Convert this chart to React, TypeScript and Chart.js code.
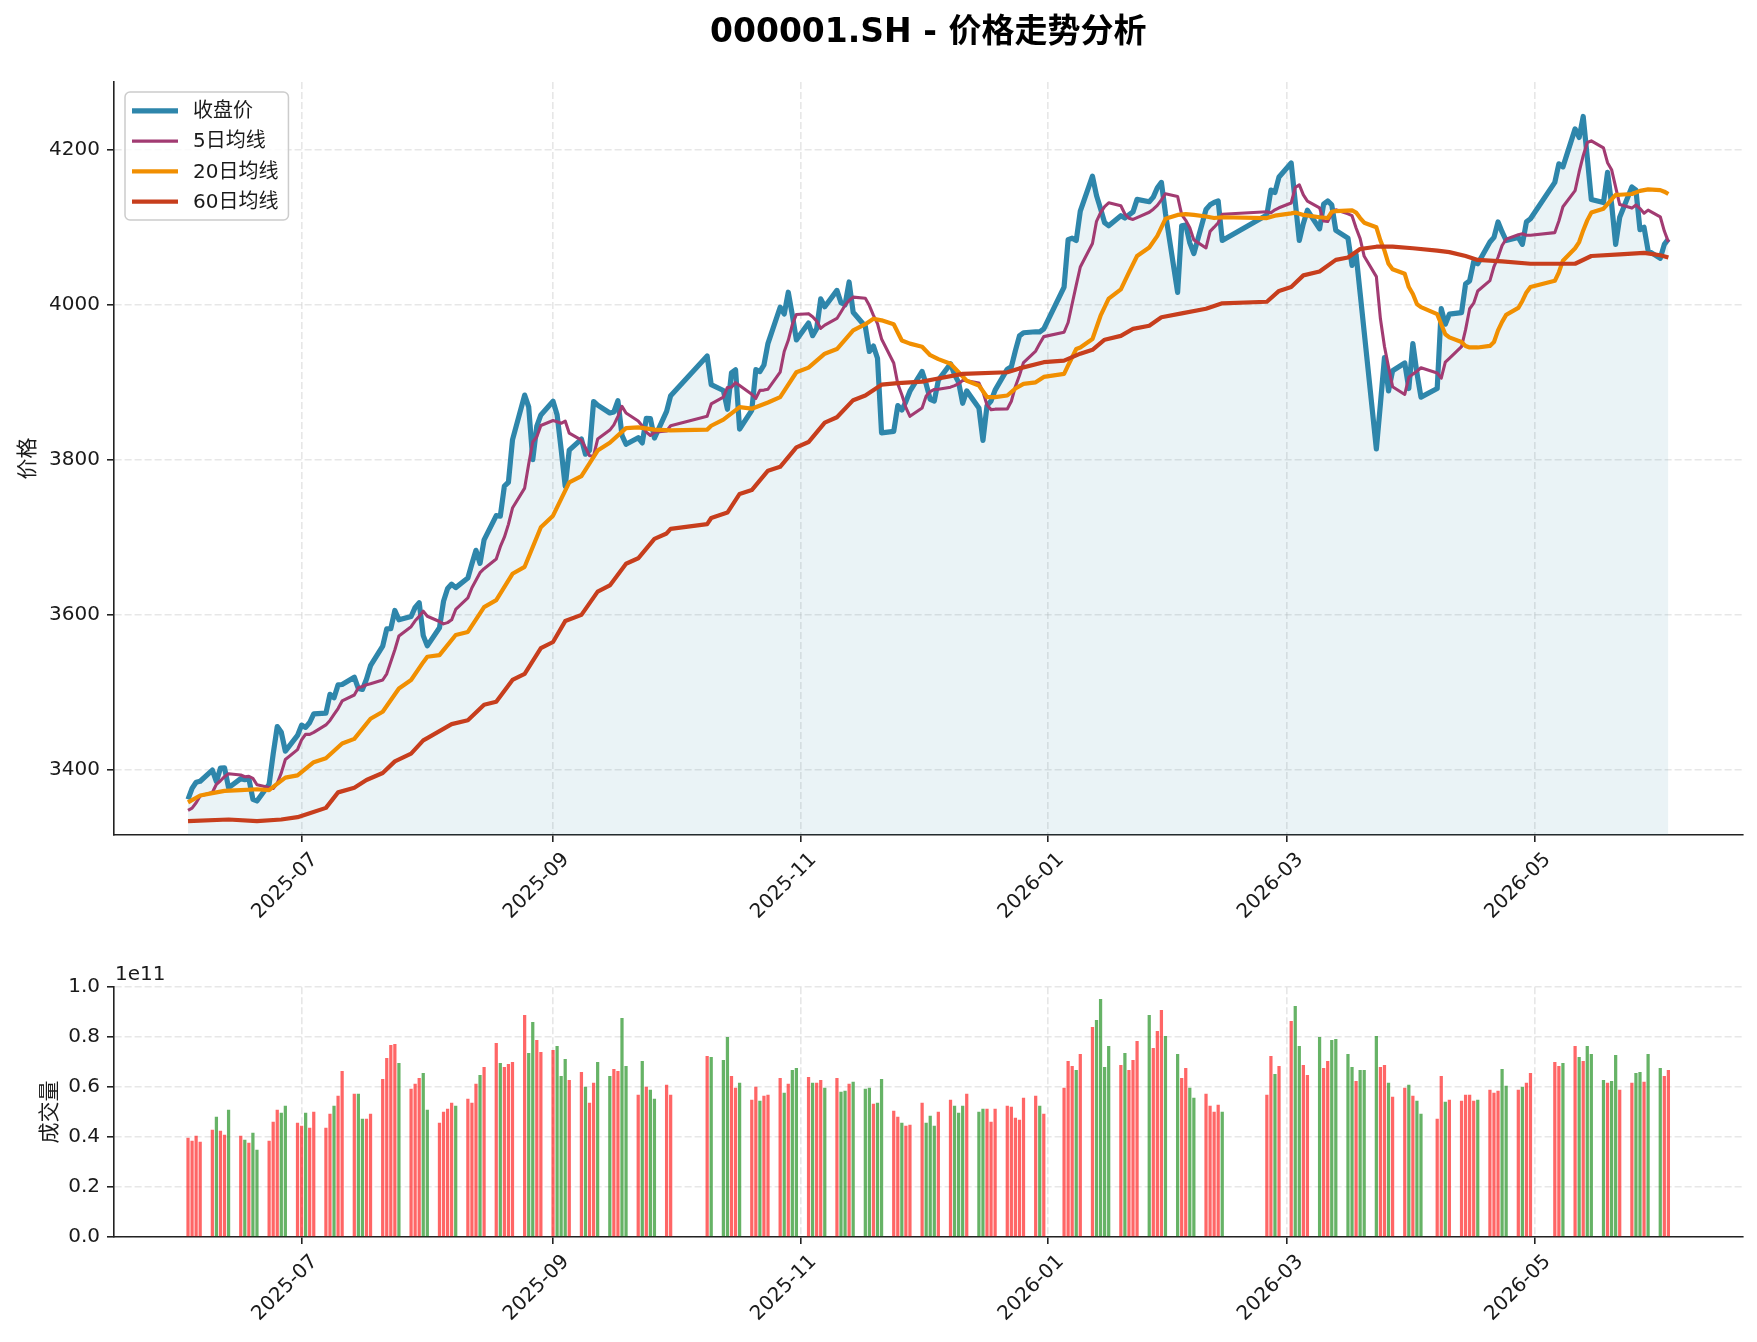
import React, { useEffect, useRef } from "react";
import { Chart, registerables } from "chart.js";

Chart.register(...registerables);

const FONT = "'DejaVu Sans', 'Noto Sans CJK SC', sans-serif";

const TITLE = "000001.SH - 价格走势分析";
const SERIES_NAMES = ["收盘价", "5日均线", "20日均线", "60日均线"];
const PRICE_LABEL = "价格";
const VOLUME_LABEL = "成交量";
const VOLUME_OFFSET_TEXT = "1e11";

// trading calendar
const FIRST_DAY = "2025-06-03";
const LAST_DAY = "2026-06-03";
const MARKET_HOLIDAYS = [
  "2025-10-01", "2025-10-02", "2025-10-03", "2025-10-06", "2025-10-07", "2025-10-08",
  "2026-01-01", "2026-01-02",
  "2026-02-16", "2026-02-17", "2026-02-18", "2026-02-19", "2026-02-20", "2026-02-23",
  "2026-04-06",
  "2026-05-01", "2026-05-04", "2026-05-05",
];

// closing prices, one per trading day
const CLOSE = [
  // 2025-06
  3361.98, 3376.2, 3384.1, 3385.36, 3399.77, 3384.82, 3402.32, 3402.66, 3377.0, 3388.73,
  3387.4, 3388.81, 3362.11, 3359.9, 3381.58, 3420.57, 3455.97, 3448.45, 3424.23, 3444.43,
  // 2025-07
  3457.75, 3454.79, 3461.15, 3472.32, 3473.13, 3497.48, 3493.05, 3509.68, 3510.18, 3519.65,
  3505.0, 3503.78, 3516.83, 3534.48, 3559.79, 3581.86, 3582.3, 3605.73, 3593.66, 3597.94,
  3609.71, 3615.72, 3573.21,
  // 2025-08
  3559.95, 3583.31, 3617.6, 3633.99, 3639.67, 3635.13, 3647.55, 3665.92, 3683.23, 3666.44,
  3696.77, 3728.03, 3727.29, 3766.21, 3771.1, 3825.76, 3883.56, 3868.38, 3800.35, 3843.6,
  3857.93,
  // 2025-09
  3875.53, 3858.13, 3813.56, 3765.88, 3812.51, 3826.84, 3807.29, 3812.22, 3875.31, 3870.6,
  3860.5, 3861.87, 3876.34, 3831.66, 3820.09, 3828.58, 3821.83, 3853.64, 3853.3, 3828.11,
  3862.53, 3882.78,
  // 2025-10
  3933.97, 3897.03, 3889.5, 3865.23, 3912.21, 3916.23, 3839.76, 3863.89, 3916.33, 3913.76,
  3922.41, 3950.31, 3996.94, 3988.22, 4016.33, 3986.9, 3954.79,
  // 2025-11
  3976.52, 3960.19, 3969.25, 4007.76, 3997.56, 4018.6, 4002.76, 4000.14, 4029.5, 3990.49,
  3972.03, 3939.81, 3946.74, 3931.05, 3834.89, 3836.77, 3870.02, 3864.18, 3875.26, 3888.6,
  // 2025-12
  3914.01, 3897.71, 3878.0, 3875.79, 3902.81, 3924, 3910, 3900, 3873, 3889,
  3867, 3825, 3870, 3876, 3890, 3917, 3920, 3941, 3960, 3964,
  3965.3, 3965.1, 3969,
  // 2026-01
  4023, 4084, 4086, 4083, 4121, 4166, 4141, 4124, 4106, 4102,
  4115, 4112, 4116, 4120, 4136, 4133, 4139, 4151, 4158, 4118,
  // 2026-02
  4016, 4102, 4103, 4080, 4066, 4123, 4129, 4132, 4134, 4083,
  4116, 4148, 4145, 4165,
  // 2026-03
  4183, 4133, 4083, 4105, 4122, 4098, 4130, 4134, 4129, 4096,
  4086, 4051, 4065, 4015, 3965, 3814, 3872, 3932, 3889, 3915,
  3925, 3892,
  // 2026-04
  3950, 3912, 3881, 3892, 3995, 3975, 3988, 3990, 4027, 4031,
  4056, 4053, 4081, 4087, 4107, 4094, 4083, 4087, 4078, 4107,
  4111,
  // 2026-05
  4158, 4182, 4178, 4227, 4216, 4243, 4190, 4136, 4132, 4171,
  4130, 4078, 4113, 4152, 4148, 4097, 4100, 4070,
  // 2026-06
  4060, 4078, 4085,
];

// 5-day moving-average line as drawn, one value per trading day
const MA5 = [
  // 2025-06
  3347.7, 3350.6, 3357.6, 3366.4, 3370.8, 3381.4, 3386.0, 3391.2, 3395.0, 3393.4,
  3391.2, 3391.6, 3389.0, 3380.8, 3377.4, 3376.0, 3382.8, 3396.2, 3413.4, 3426.2,
  // 2025-07
  3438.6, 3446.0, 3445.8, 3448.4, 3458.0, 3463.8, 3471.6, 3479.2, 3489.0, 3496.6,
  3506.0, 3507.6, 3509.8, 3511.2, 3516.0, 3524.0, 3539.4, 3555.0, 3572.8, 3584.8,
  3592.4, 3598.0, 3604.8,
  // 2025-08
  3598.2, 3591.4, 3588.4, 3590.0, 3593.6, 3607.0, 3622.0, 3635.0, 3644.6, 3654.4,
  3659.6, 3672.0, 3688.0, 3700.2, 3716.8, 3737.8, 3763.6, 3794.8, 3823.0, 3829.8,
  3844.4,
  // 2025-09
  3850.8, 3849.2, 3847.2, 3850.0, 3834.4, 3825.4, 3815.6, 3805.4, 3805.0, 3826.8,
  3838.4, 3845.2, 3856.2, 3869.0, 3860.4, 3850.2, 3843.8, 3835.8, 3831.4, 3835.6,
  3837.2, 3844.0,
  // 2025-10
  3856.2, 3872.2, 3881.0, 3893.4, 3893.8, 3899.6, 3896.0, 3884.6, 3879.4, 3889.6,
  3890.0, 3891.2, 3913.2, 3939.8, 3954.2, 3974.6, 3987.6,
  // 2025-11
  3988.6, 3984.6, 3979.0, 3969.6, 3973.8, 3982.4, 3990.8, 3999.4, 4005.6, 4010.0,
  4008.4, 3999.0, 3986.4, 3975.8, 3956.0, 3925.0, 3898.0, 3884.0, 3867.4, 3856.2,
  // 2025-12
  3867.0, 3882.4, 3888.0, 3890.8, 3891.0, 3893.8, 3895.8, 3898.2, 3902.6, 3902.0,
  3899.2, 3887.8, 3870.8, 3864.8, 3865.4, 3865.6, 3875.6, 3894.6, 3908.8, 3925.6,
  3940.4, 3950.0, 3959.0,
  // 2026-01
  3964.6, 3977.2, 4001.4, 4025.4, 4048.8, 4079.2, 4107.8, 4119.0, 4126.8, 4131.6,
  4127.8, 4117.2, 4111.8, 4110.2, 4112.6, 4119.4, 4123.4, 4128.4, 4135.4, 4143.4,
  // 2026-02
  4139.8, 4116.4, 4109.0, 4099.4, 4083.8, 4073.4, 4094.8, 4100.2, 4106.0, 4116.8,
  4120.2, 4118.8, 4122.6, 4125.2,
  // 2026-03
  4131.4, 4151.4, 4154.8, 4141.8, 4133.8, 4125.2, 4108.2, 4107.6, 4117.8, 4122.6,
  4117.4, 4115.0, 4099.2, 4085.4, 4062.6, 4036.4, 3982.0, 3946.2, 3919.6, 3894.4,
  3884.4, 3906.6,
  // 2026-04
  3910.6, 3914.2, 3918.8, 3912.0, 3905.4, 3926.0, 3931.0, 3946.2, 3968.0, 3995.0,
  4002.2, 4017.8, 4031.2, 4049.4, 4061.4, 4076.6, 4084.8, 4090.4, 4091.6, 4089.8,
  4089.8,
  // 2026-05
  4093.2, 4108.2, 4126.6, 4147.4, 4171.4, 4192.4, 4209.4, 4211.6, 4202.4, 4183.4,
  4174.4, 4151.8, 4129.4, 4124.8, 4128.8, 4124.2, 4118.2, 4122.2,
  // 2026-06
  4113.6, 4095.2, 4081.2,
];

// 20-day moving average, read at these trading days
const MA20_POINTS: [string, number][] = [
  ["2025-06-03", 3358], ["2025-06-06", 3367], ["2025-06-09", 3370], ["2025-06-12", 3373],
  ["2025-06-16", 3374], ["2025-06-20", 3375], ["2025-06-23", 3374], ["2025-06-24", 3378],
  ["2025-06-27", 3390], ["2025-06-30", 3393], ["2025-07-04", 3410], ["2025-07-07", 3415],
  ["2025-07-11", 3434], ["2025-07-14", 3440], ["2025-07-18", 3466], ["2025-07-21", 3475],
  ["2025-07-25", 3505], ["2025-07-28", 3516], ["2025-07-31", 3539], ["2025-08-01", 3546],
  ["2025-08-04", 3548], ["2025-08-08", 3574], ["2025-08-11", 3578], ["2025-08-15", 3610],
  ["2025-08-18", 3619], ["2025-08-22", 3653], ["2025-08-25", 3662], ["2025-08-29", 3713],
  ["2025-09-01", 3728], ["2025-09-05", 3771], ["2025-09-08", 3779], ["2025-09-12", 3812],
  ["2025-09-15", 3822], ["2025-09-19", 3841], ["2025-09-22", 3842], ["2025-09-26", 3839],
  ["2025-09-30", 3838], ["2025-10-09", 3839], ["2025-10-10", 3844], ["2025-10-13", 3852],
  ["2025-10-17", 3868], ["2025-10-20", 3866], ["2025-10-24", 3874], ["2025-10-27", 3881],
  ["2025-10-31", 3913], ["2025-11-03", 3919], ["2025-11-07", 3937], ["2025-11-10", 3943],
  ["2025-11-14", 3967], ["2025-11-17", 3975], ["2025-11-19", 3982], ["2025-11-21", 3980],
  ["2025-11-24", 3975], ["2025-11-26", 3954], ["2025-11-28", 3950], ["2025-12-01", 3946],
  ["2025-12-03", 3935], ["2025-12-05", 3930], ["2025-12-08", 3924], ["2025-12-10", 3913],
  ["2025-12-12", 3902], ["2025-12-15", 3896], ["2025-12-17", 3881], ["2025-12-19", 3881],
  ["2025-12-22", 3883], ["2025-12-24", 3892], ["2025-12-26", 3898], ["2025-12-29", 3900],
  ["2025-12-31", 3907], ["2026-01-05", 3911], ["2026-01-06", 3922], ["2026-01-08", 3943],
  ["2026-01-09", 3945], ["2026-01-12", 3956], ["2026-01-14", 3986], ["2026-01-16", 4008],
  ["2026-01-19", 4020], ["2026-01-21", 4042], ["2026-01-23", 4063], ["2026-01-26", 4074],
  ["2026-01-28", 4089], ["2026-01-30", 4111], ["2026-02-02", 4116], ["2026-02-04", 4117],
  ["2026-02-06", 4116], ["2026-02-09", 4114], ["2026-02-11", 4112], ["2026-02-13", 4113],
  ["2026-02-24", 4112], ["2026-02-26", 4115], ["2026-03-02", 4118], ["2026-03-03", 4119],
  ["2026-03-05", 4116], ["2026-03-09", 4113], ["2026-03-11", 4112], ["2026-03-12", 4120],
  ["2026-03-13", 4121], ["2026-03-17", 4122], ["2026-03-18", 4119], ["2026-03-19", 4112],
  ["2026-03-20", 4106], ["2026-03-23", 4100], ["2026-03-24", 4083], ["2026-03-25", 4070],
  ["2026-03-26", 4053], ["2026-03-27", 4046], ["2026-03-30", 4040], ["2026-03-31", 4023],
  ["2026-04-01", 4014], ["2026-04-02", 4001], ["2026-04-03", 3997], ["2026-04-07", 3988],
  ["2026-04-08", 3975], ["2026-04-09", 3962], ["2026-04-10", 3958], ["2026-04-13", 3952],
  ["2026-04-14", 3947], ["2026-04-15", 3945], ["2026-04-17", 3945], ["2026-04-20", 3947],
  ["2026-04-21", 3952], ["2026-04-22", 3967], ["2026-04-23", 3978], ["2026-04-24", 3987],
  ["2026-04-27", 3996], ["2026-04-28", 4005], ["2026-04-29", 4016], ["2026-04-30", 4023],
  ["2026-05-06", 4031], ["2026-05-07", 4042], ["2026-05-08", 4057], ["2026-05-11", 4073],
  ["2026-05-12", 4081], ["2026-05-13", 4096], ["2026-05-14", 4109], ["2026-05-15", 4119],
  ["2026-05-18", 4124], ["2026-05-19", 4130], ["2026-05-20", 4136], ["2026-05-21", 4142],
  ["2026-05-22", 4142], ["2026-05-25", 4143], ["2026-05-27", 4147], ["2026-05-29", 4149],
  ["2026-06-01", 4148], ["2026-06-02", 4146], ["2026-06-03", 4143],
];

// 60-day moving average, read at these trading days
const MA60_POINTS: [string, number][] = [
  ["2025-06-03", 3334], ["2025-06-13", 3336], ["2025-06-20", 3334], ["2025-06-26", 3336],
  ["2025-06-30", 3339], ["2025-07-03", 3344], ["2025-07-07", 3351], ["2025-07-10", 3371],
  ["2025-07-14", 3377], ["2025-07-17", 3387], ["2025-07-21", 3396], ["2025-07-24", 3411],
  ["2025-07-28", 3421], ["2025-07-31", 3438], ["2025-08-01", 3441], ["2025-08-07", 3459],
  ["2025-08-11", 3464], ["2025-08-15", 3484], ["2025-08-18", 3488], ["2025-08-22", 3516],
  ["2025-08-25", 3524], ["2025-08-29", 3557], ["2025-09-01", 3565], ["2025-09-04", 3592],
  ["2025-09-08", 3600], ["2025-09-12", 3630], ["2025-09-15", 3638], ["2025-09-19", 3666],
  ["2025-09-22", 3673], ["2025-09-26", 3698], ["2025-09-29", 3705], ["2025-09-30", 3711],
  ["2025-10-09", 3717], ["2025-10-10", 3725], ["2025-10-14", 3732], ["2025-10-17", 3756],
  ["2025-10-20", 3761], ["2025-10-24", 3786], ["2025-10-27", 3791], ["2025-10-31", 3816],
  ["2025-11-03", 3823], ["2025-11-07", 3848], ["2025-11-10", 3855], ["2025-11-14", 3877],
  ["2025-11-17", 3883], ["2025-11-21", 3897], ["2025-11-25", 3899], ["2025-12-01", 3901],
  ["2025-12-04", 3904], ["2025-12-11", 3911], ["2025-12-22", 3913], ["2025-12-25", 3918],
  ["2025-12-31", 3926], ["2026-01-05", 3928], ["2026-01-09", 3937], ["2026-01-12", 3942],
  ["2026-01-15", 3955], ["2026-01-19", 3960], ["2026-01-22", 3969], ["2026-01-26", 3973],
  ["2026-01-29", 3984], ["2026-02-03", 3989], ["2026-02-09", 3995], ["2026-02-13", 4002],
  ["2026-02-24", 4004], ["2026-02-27", 4018], ["2026-03-02", 4023], ["2026-03-05", 4038],
  ["2026-03-09", 4043], ["2026-03-13", 4058], ["2026-03-16", 4061], ["2026-03-19", 4072],
  ["2026-03-23", 4075], ["2026-03-27", 4075], ["2026-04-01", 4073], ["2026-04-07", 4070],
  ["2026-04-10", 4068], ["2026-04-14", 4063], ["2026-04-17", 4058], ["2026-04-23", 4056],
  ["2026-04-30", 4053], ["2026-05-08", 4053], ["2026-05-11", 4053], ["2026-05-15", 4063],
  ["2026-05-22", 4065], ["2026-05-28", 4067], ["2026-06-01", 4064], ["2026-06-03", 4061],
];

// volume, units of 1e9, one per trading day
const VOLUME_E9 = [
  39.7, 38.5, 40.5, 38.1, 42.9, 48.1, 42.5, 40.9, 50.9, 40.5,
  38.9, 37.7, 41.7, 34.9, 38.5, 46.1, 50.9, 49.7, 52.5, 45.7,
  44.5, 49.7, 43.7, 50.1, 43.7, 49.3, 52.5, 56.5, 66.5, 57.3,
  57.3, 47.3, 47.3, 49.3, 63.3, 71.7, 76.9, 77.3, 69.7, 59.3,
  61.3, 63.7, 65.7,
  50.9, 45.7, 50.1, 51.3, 53.7, 52.5, 55.3, 53.7, 61.3, 64.9,
  68.1, 77.7, 69.7, 68.1, 69.3, 70.1, 88.9, 73.7, 86.1, 78.9,
  74.1,
  74.9, 76.5, 64.5, 71.3, 62.9, 66.1, 60.1, 53.7, 61.7, 70.1,
  64.5, 67.3, 66.5, 87.7, 68.5, 56.9, 70.5, 60.1, 58.9, 55.3,
  60.9, 56.9,
  72.5, 72.1, 70.9, 80.1, 64.5, 59.7, 61.7, 54.9, 60.1, 54.5,
  56.5, 56.9, 63.7, 57.7, 61.3, 66.9, 67.7,
  64.1, 61.7, 61.7, 62.9, 59.7, 63.7, 58.1, 58.5, 61.3, 62.1,
  59.3, 59.7, 53.3, 53.7, 63.3, 50.5, 48.1, 45.7, 44.5, 44.9,
  53.7, 45.7, 48.5, 44.5, 50.1, 54.9, 52.5, 49.7, 52.5, 57.3,
  50.1, 51.3, 51.3, 46.1, 51.3, 52.5, 52.1, 47.7, 46.9, 55.7,
  56.5, 52.5, 49.3,
  59.7, 70.5, 68.5, 66.9, 73.3, 84.1, 86.9, 95.3, 68.1, 76.5,
  68.9, 73.7, 66.9, 70.9, 78.5, 88.9, 75.7, 82.5, 90.9, 80.5,
  73.3, 63.7, 67.7, 59.7, 55.7, 57.3, 52.5, 50.1, 52.9, 50.1,
  56.9, 72.5, 65.3, 68.5,
  86.5, 92.5, 76.5, 68.9, 64.9, 80.1, 67.7, 70.5, 78.9, 79.3,
  73.3, 68.1, 62.5, 66.9, 66.9, 80.5, 68.1, 68.9, 61.7, 56.1,
  59.7, 60.9,
  56.5, 54.5, 49.3, 47.3, 64.5, 54.1, 54.9, 54.5, 56.9, 56.9,
  54.5, 54.9, 58.9, 57.7, 58.5, 67.3, 60.5, 58.9, 60.1, 61.7,
  65.7,
  70.1, 68.5, 69.7, 76.5, 72.1, 70.5, 76.5, 73.3, 62.9, 61.7,
  62.5, 72.9, 58.9, 61.7, 65.7, 66.1, 62.1, 73.3,
  67.7, 64.5, 66.9,
];

// 1 = up day (red bar), 0 = down day (green bar), grouped by week
const VOLUME_UP =
  "1111" + "10110" + "10100" + "11100" + "11011" + "11011" + "10011" + "11110" + "11100" +
  "11110" + "11101" + "10111" + "10011" + "10001" + "10110" + "01100" + "10100" + "11" +
  "10" + "00110" + "11011" + "10100" +
  "10110" + "10010" + "00100" + "11011" +
  "10001" + "10001" + "00111" + "11111" + "101" +
  "11101" + "10000" + "10111" + "01110" +
  "01100" + "11110" + "1101" +
  "10011" + "01100" + "00100" + "01101" + "10100" +
  "1101" + "11110" + "11100" + "1011" +
  "110" + "10100" + "01001" + "10010" +
  "011";

const X_TICK_DATES = ["2025-07-01", "2025-09-01", "2025-11-01", "2026-01-01", "2026-03-01", "2026-05-01"];
const PRICE_TICKS = [3400, 3600, 3800, 4000, 4200];
const PRICE_MIN = 3316;
const PRICE_MAX = 4287.5;
const VOLUME_TICKS = [0, 0.2, 0.4, 0.6, 0.8, 1.0];
const VOLUME_MAX = 1.0;

// ---------- helpers ----------
const dayNum = (s: string) => {
  const [y, m, d] = s.split("-").map(Number);
  return Date.UTC(y, m - 1, d) / 86400000;
};
const isoOf = (n: number) => new Date(n * 86400000).toISOString().slice(0, 10);

function tradingDays(): string[] {
  const out: string[] = [];
  const hol = new Set(MARKET_HOLIDAYS);
  for (let n = dayNum(FIRST_DAY); n <= dayNum(LAST_DAY); n++) {
    const wd = new Date(n * 86400000).getUTCDay();
    if (wd === 0 || wd === 6) continue;
    const iso = isoOf(n);
    if (hol.has(iso)) continue;
    out.push(iso);
  }
  return out;
}

const COLORS = {
  close: "#2E86AB",
  ma5: "#A23B72",
  ma20: "#F18F01",
  ma60: "#C73E1D",
  fill: "rgba(46,134,171,0.1)",
  up: "rgba(255,0,0,0.6)",
  down: "rgba(0,128,0,0.6)",
  grid: "rgba(176,176,176,0.3)",
  axis: "#222222",
  text: "#1a1a1a",
};

const W = 1757;
const H_MAIN = 940;
const H_VOL = 402;
const AXIS_W = 114;
const X_AXIS_H = 105;
const PAD_RIGHT = 14.6;

export default function App() {
  const mainRef = useRef<HTMLCanvasElement>(null);
  const volRef = useRef<HTMLCanvasElement>(null);

  useEffect(() => {
    const days = tradingDays();
    const n = Math.min(days.length, CLOSE.length);
    const xs = days.map(dayNum);
    const xMin = dayNum(FIRST_DAY) - 18.25;
    const xMax = dayNum(LAST_DAY) + 18.25;
    const tickVals = X_TICK_DATES.map(dayNum);
    const tickLabel = (v: number) => {
      const i = tickVals.indexOf(v);
      return i >= 0 ? X_TICK_DATES[i].slice(0, 7) : "";
    };

    const gridOpts = {
      color: COLORS.grid,
      lineWidth: 1.6,
      drawTicks: true,
      tickLength: 7,
      tickColor: COLORS.axis,
      tickWidth: 1.6,
      offset: false,
    };
    const borderOpts = { display: true, color: COLORS.axis, width: 1.6, dash: [7, 3] };
    const tickFont = { family: FONT, size: 20 };

    const xScale = () => ({
      type: "linear" as const,
      min: xMin,
      max: xMax,
      offset: false,
      grid: gridOpts,
      border: borderOpts,
      afterBuildTicks: (s: any) => {
        s.ticks = tickVals.map((v) => ({ value: v }));
      },
      afterFit: (s: any) => {
        s.height = X_AXIS_H;
      },
      ticks: {
        autoSkip: false,
        minRotation: 45,
        maxRotation: 45,
        padding: 6,
        labelOffset: 13,
        color: COLORS.text,
        font: tickFont,
        callback: (v: any) => tickLabel(Number(v)),
      },
    });

    const titlePlugin = {
      id: "figTitle",
      afterDraw(chart: any) {
        const { ctx, chartArea } = chart;
        ctx.save();
        ctx.font = `bold 33px ${FONT}`;
        ctx.fillStyle = "#000";
        ctx.textAlign = "center";
        ctx.textBaseline = "middle";
        ctx.fillText(TITLE, (chartArea.left + chartArea.right) / 2, 33);
        ctx.restore();
      },
    };

    const legendPlugin = {
      id: "mplLegend",
      afterDraw(chart: any) {
        const { ctx, chartArea } = chart;
        const x0 = chartArea.left + 11;
        const y0 = chartArea.top + 10;
        const rowH = 30.3;
        ctx.save();
        ctx.font = `20px ${FONT}`;
        let maxW = 0;
        SERIES_NAMES.forEach((t) => (maxW = Math.max(maxW, ctx.measureText(t).width)));
        const w = 68 + maxW + 10;
        const h = 128;
        const r = 5;
        ctx.beginPath();
        ctx.moveTo(x0 + r, y0);
        ctx.arcTo(x0 + w, y0, x0 + w, y0 + h, r);
        ctx.arcTo(x0 + w, y0 + h, x0, y0 + h, r);
        ctx.arcTo(x0, y0 + h, x0, y0, r);
        ctx.arcTo(x0, y0, x0 + w, y0, r);
        ctx.closePath();
        ctx.fillStyle = "rgba(255,255,255,0.8)";
        ctx.fill();
        ctx.strokeStyle = "#cccccc";
        ctx.lineWidth = 1.5;
        ctx.stroke();
        const cols = [COLORS.close, COLORS.ma5, COLORS.ma20, COLORS.ma60];
        const widths = [5.2, 3.1, 4.2, 4.2];
        SERIES_NAMES.forEach((t, i) => {
          const cy = y0 + 18.8 + i * rowH;
          ctx.beginPath();
          ctx.moveTo(x0 + 7, cy);
          ctx.lineTo(x0 + 53, cy);
          ctx.strokeStyle = cols[i];
          ctx.lineWidth = widths[i];
          ctx.lineCap = "butt";
          ctx.stroke();
          ctx.fillStyle = COLORS.text;
          ctx.textAlign = "left";
          ctx.textBaseline = "middle";
          ctx.fillText(t, x0 + 68, cy + 1);
        });
        ctx.restore();
      },
    };

    const offsetTextPlugin = {
      id: "offsetText",
      afterDraw(chart: any) {
        const { ctx, chartArea } = chart;
        ctx.save();
        ctx.font = `20px ${FONT}`;
        ctx.fillStyle = COLORS.text;
        ctx.textAlign = "left";
        ctx.textBaseline = "alphabetic";
        ctx.fillText(VOLUME_OFFSET_TEXT, chartArea.left + 1, chartArea.top - 7);
        ctx.restore();
      },
    };

    const lineDs = (label: string, data: any[], color: string, width: number, order: number, extra: any = {}) => ({
      label,
      data,
      borderColor: color,
      borderWidth: width,
      pointRadius: 0,
      pointHoverRadius: 0,
      tension: 0,
      borderJoinStyle: "round",
      borderCapStyle: "butt",
      fill: false,
      order,
      ...extra,
    });

    const closeData = [];
    const ma5Data = [];
    for (let i = 0; i < n; i++) {
      closeData.push({ x: xs[i], y: CLOSE[i] });
      if (i < MA5.length) ma5Data.push({ x: xs[i], y: MA5[i] });
    }
    const ma20Data = MA20_POINTS.map(([d, v]) => ({ x: dayNum(d), y: v }));
    const ma60Data = MA60_POINTS.map(([d, v]) => ({ x: dayNum(d), y: v }));

    const main = new Chart(mainRef.current as HTMLCanvasElement, {
      type: "line",
      data: {
        datasets: [
          lineDs(SERIES_NAMES[0], closeData, COLORS.close, 5.2, 4, { fill: "start", backgroundColor: COLORS.fill }),
          lineDs(SERIES_NAMES[1], ma5Data, COLORS.ma5, 3.1, 3),
          lineDs(SERIES_NAMES[2], ma20Data, COLORS.ma20, 4.2, 2),
          lineDs(SERIES_NAMES[3], ma60Data, COLORS.ma60, 4.2, 1),
        ] as any,
      },
      options: {
        animation: false,
        responsive: false,
        devicePixelRatio: 1,
        events: [],
        layout: { padding: { top: 82, right: PAD_RIGHT, left: 0, bottom: 0 } },
        plugins: { legend: { display: false }, tooltip: { enabled: false }, title: { display: false } },
        scales: {
          x: xScale() as any,
          y: {
            type: "linear",
            min: PRICE_MIN,
            max: PRICE_MAX,
            grid: gridOpts,
            border: borderOpts,
            afterBuildTicks: (s: any) => {
              s.ticks = PRICE_TICKS.map((v) => ({ value: v }));
            },
            afterFit: (s: any) => {
              s.width = AXIS_W;
            },
            ticks: {
              padding: 7,
              color: COLORS.text,
              font: tickFont,
              callback: (v: any) => String(v),
            },
            title: {
              display: true,
              text: PRICE_LABEL,
              color: COLORS.text,
              font: { family: FONT, size: 21 },
              padding: { top: 16, bottom: 0 },
            },
          } as any,
        },
      },
      plugins: [titlePlugin, legendPlugin],
    });

    const volData = [];
    const volColors: string[] = [];
    for (let i = 0; i < Math.min(n, VOLUME_E9.length); i++) {
      volData.push({ x: xs[i], y: VOLUME_E9[i] * 1e9 });
      volColors.push(VOLUME_UP[i] === "1" ? COLORS.up : COLORS.down);
    }

    const vol = new Chart(volRef.current as HTMLCanvasElement, {
      type: "bar",
      data: {
        datasets: [
          {
            label: VOLUME_LABEL,
            data: volData,
            backgroundColor: volColors,
            borderWidth: 0,
            barPercentage: 0.8,
            categoryPercentage: 1.0,
          },
        ] as any,
      },
      options: {
        animation: false,
        responsive: false,
        devicePixelRatio: 1,
        events: [],
        layout: { padding: { top: 47.2, right: PAD_RIGHT, left: 0, bottom: 0 } },
        plugins: { legend: { display: false }, tooltip: { enabled: false }, title: { display: false } },
        scales: {
          x: xScale() as any,
          y: {
            type: "linear",
            min: 0,
            max: VOLUME_MAX * 1e11,
            grid: gridOpts,
            border: borderOpts,
            afterBuildTicks: (s: any) => {
              s.ticks = VOLUME_TICKS.map((v) => ({ value: v * 1e11 }));
            },
            afterFit: (s: any) => {
              s.width = AXIS_W;
            },
            ticks: {
              padding: 7,
              color: COLORS.text,
              font: tickFont,
              callback: (v: any) => (Number(v) / 1e11).toFixed(1),
            },
            title: {
              display: true,
              text: VOLUME_LABEL,
              color: COLORS.text,
              font: { family: FONT, size: 21 },
              padding: { top: 38, bottom: 0 },
            },
          } as any,
        },
      },
      plugins: [offsetTextPlugin],
    });

    return () => {
      main.destroy();
      vol.destroy();
    };
  }, []);

  return (
    <div style={{ position: "absolute", left: 0, top: 0, width: W, height: H_MAIN + H_VOL, background: "#fff" }}>
      <canvas
        ref={mainRef}
        width={W}
        height={H_MAIN}
        style={{ position: "absolute", left: 0, top: 0, width: W, height: H_MAIN }}
      />
      <canvas
        ref={volRef}
        width={W}
        height={H_VOL}
        style={{ position: "absolute", left: 0, top: H_MAIN, width: W, height: H_VOL }}
      />
    </div>
  );
}
